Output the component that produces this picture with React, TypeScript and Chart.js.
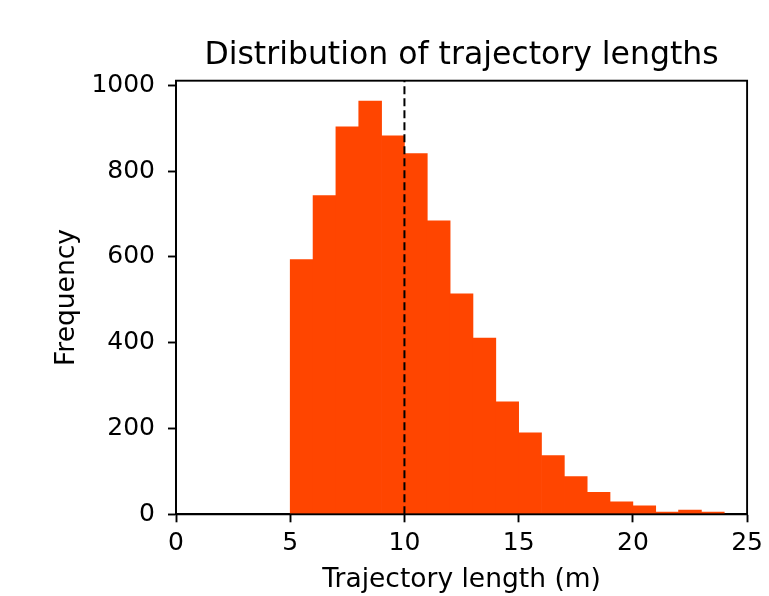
import React, { useEffect, useRef } from "react";
import { Chart, registerables } from "chart.js";

Chart.register(...registerables);

const binStarts = [5, 6, 7, 8, 9, 10, 11, 12, 13, 14, 15, 16, 17, 18, 19, 20, 21, 22, 23];
const counts = [594, 743, 903, 963, 882, 841, 684, 514, 411, 262, 190, 137, 88, 51, 29, 20, 5, 10, 5];
const xTicks = [0, 5, 10, 15, 20, 25];
const yTicks = [0, 200, 400, 600, 800, 1000];
const meanLine = 10;
const titleText = "Distribution of trajectory lengths";
const xLabel = "Trajectory length (m)";
const yLabel = "Frequency";

const FONT = "'DejaVu Sans', sans-serif";

export default function App() {
  const ref = useRef<HTMLCanvasElement | null>(null);

  useEffect(() => {
    if (!ref.current) return;
    const framePlugin = {
      id: "frame",
      afterDatasetsDraw(chart: any) {
        const { ctx, chartArea, scales } = chart;
        ctx.save();
        const xp = scales.x.getPixelForValue(meanLine);
        ctx.strokeStyle = "#000";
        ctx.lineWidth = 2;
        ctx.setLineDash([8, 4]);
        ctx.beginPath();
        ctx.moveTo(xp, chartArea.bottom);
        ctx.lineTo(xp, chartArea.top);
        ctx.stroke();
        ctx.setLineDash([]);
        ctx.lineWidth = 1.9;
        ctx.strokeRect(chartArea.left, chartArea.top, chartArea.right - chartArea.left, chartArea.bottom - chartArea.top);
        ctx.fillStyle = "#000";
        ctx.font = `31.5px ${FONT}`;
        ctx.textAlign = "center";
        ctx.textBaseline = "alphabetic";
        ctx.fillText(titleText, (chartArea.left + chartArea.right) / 2, 64.3);
        ctx.restore();
      },
    };

    const chart = new Chart(ref.current, {
      type: "bar",
      data: {
        datasets: [
          {
            data: binStarts.map((b, i) => ({ x: b + 0.5, y: counts[i] })),
            backgroundColor: "#FF4500",
            borderWidth: 0,
            barPercentage: 1,
            categoryPercentage: 1,
          },
        ],
      },
      options: {
        responsive: false,
        animation: false,
        layout: { padding: { left: 0, right: 21, top: 80.7, bottom: 0 } },
        plugins: {
          legend: { display: false },
          tooltip: { enabled: false },
          title: { display: false },
        },
        scales: {
          x: {
            type: "linear",
            min: 0,
            max: 25,
            offset: false,
            afterBuildTicks: (s: any) => {
              s.ticks = xTicks.map((v) => ({ value: v }));
            },
            afterFit: (s: any) => {
              s.height = 596 - 514.3;
            },
            grid: { offset: false, drawOnChartArea: false, drawTicks: true, tickLength: 8, tickColor: "#000", tickWidth: 1.9 },
            border: { display: true, color: "#000", width: 1.9 },
            ticks: { color: "#000", font: { family: FONT, size: 25 }, padding: 6, maxRotation: 0, callback: (v: any) => String(v) },
            title: {
              display: true,
              text: xLabel,
              color: "#000",
              font: { family: FONT, size: 26.5, lineHeight: 1.2 },
              padding: { top: 0, bottom: 0.1 },
            },
          },
          y: {
            type: "linear",
            min: 0,
            max: 1010.7,
            afterBuildTicks: (s: any) => {
              s.ticks = yTicks.map((v) => ({ value: v }));
            },
            afterFit: (s: any) => {
              s.width = 176;
            },
            grid: { drawOnChartArea: false, drawTicks: true, tickLength: 8, tickColor: "#000", tickWidth: 1.9 },
            border: { display: true, color: "#000", width: 1.9 },
            ticks: { color: "#000", font: { family: FONT, size: 25 }, padding: 13, callback: (v: any) => String(v) },
            title: {
              display: true,
              text: yLabel,
              color: "#000",
              font: { family: FONT, size: 26.5, lineHeight: 1.2 },
              padding: { top: 51, bottom: 0 },
            },
          },
        },
      },
      plugins: [framePlugin],
    } as any);
    return () => chart.destroy();
  }, []);

  return (
    <div style={{ position: "absolute", left: 0, top: 0, width: 769, height: 596, background: "#fff" }}>
      <canvas ref={ref} width={769} height={596} style={{ display: "block" }} />
    </div>
  );
}
